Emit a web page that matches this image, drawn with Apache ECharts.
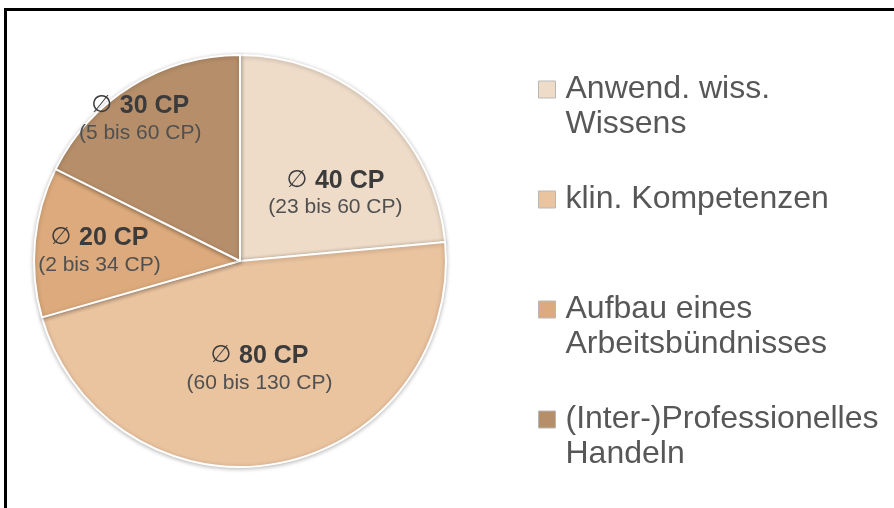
<!DOCTYPE html>
<html>
<head>
<meta charset="utf-8">
<script src="https://cdn.jsdelivr.net/npm/echarts@6/dist/echarts.min.js"></script>
<style>
    html, body { margin: 0; padding: 0; background: #fff; }
    #chart { width: 894px; height: 508px; }
</style>
</head>
<body>
<div id="chart"></div>
<script>
    // Durchschnittliche CP je Kompetenzbereich
    const names = [
        'Anwend. wiss.\nWissens',
        'klin. Kompetenzen',
        'Aufbau eines\nArbeitsbündnisses',
        '(Inter-)Professionelles\nHandeln'
    ];
    const avgCP = [40, 80, 20, 30];
    const minCP = [23, 60, 2, 5];
    const maxCP = [60, 130, 34, 60];

    const colors = ['#eedcc9', '#eac39f', '#dcaa7c', '#b68f6a'];
    // nudge the labels away from the default "inside" spot
    const labelOffsets = [[24, 11], [0, 4], [-35, 0], [-44, -52]];

    const chart = echarts.init(document.getElementById('chart'));

    chart.setOption({
        backgroundColor: '#ffffff',
        animation: false,
        color: colors,
        graphic: [{
            type: 'polyline',
            shape: { points: [[5.5, 508], [5.5, 9.5], [894, 9.5]] },
            style: { stroke: '#000', lineWidth: 3, fill: null }
        }],
        legend: {
            orient: 'vertical',
            left: 533,
            top: 32,
            itemGap: 5,
            icon: 'rect',
            itemWidth: 17,
            itemHeight: 17,
            selectedMode: false,
            itemStyle: { borderColor: '#b8b8b8', borderWidth: 1 },
            textStyle: {
                fontFamily: 'Liberation Sans, Arial, sans-serif',
                fontSize: 32,
                lineHeight: 35,
                color: '#575757',
                padding: [0, 0, 0, 5]
            },
            // blank lines keep the icon level with the first text line
            formatter(name) {
                return name.includes('\n') ? ' \n' + name : ' \n' + name + '\n ';
            },
            data: names
        },
        series: [{
            type: 'pie',
            center: [240, 261],
            radius: [0, 206],
            startAngle: 90,
            clockwise: true,
            avoidLabelOverlap: false,
            emphasis: { disabled: true },
            itemStyle: {
                borderColor: '#ffffff',
                borderWidth: 2,
                shadowBlur: 4,
                shadowColor: 'rgba(0,0,0,0.25)',
                shadowOffsetY: 1
            },
            label: {
                show: true,
                position: 'inside',
                fontFamily: 'Liberation Sans, Arial, sans-serif',
                formatter(p) {
                    const i = p.dataIndex;
                    return '{s|∅ }{b|' + avgCP[i] + ' CP}\n{r|(' + minCP[i] + ' bis ' + maxCP[i] + ' CP)}';
                },
                rich: {
                    s: { fontFamily: 'DejaVu Sans', fontSize: 24, color: '#3b3b3b', lineHeight: 28 },
                    b: { fontFamily: 'Liberation Sans', fontWeight: 'bold', fontSize: 25, color: '#3b3b3b', lineHeight: 28 },
                    r: { fontFamily: 'Liberation Sans', fontSize: 21, color: '#505050', lineHeight: 26 }
                }
            },
            labelLine: { show: false },
            data: names.map((n, i) => ({
                name: n,
                value: avgCP[i],
                label: { offset: labelOffsets[i] }
            }))
        }]
    });
</script>
</body>
</html>
